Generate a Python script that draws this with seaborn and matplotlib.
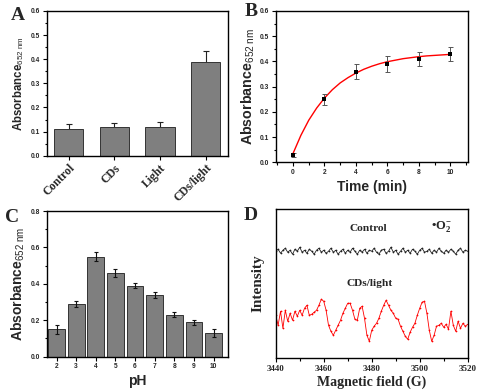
import numpy as np
import pandas as pd
import matplotlib
matplotlib.use('Agg')
import matplotlib.pyplot as plt
from matplotlib.ticker import MultipleLocator, FormatStrFormatter
import seaborn as sns

# panel A
groups_a = ['Control', 'CDs', 'Light', 'CDs/light']
abs_a = [0.11, 0.12, 0.12, 0.39]
err_a = [0.02, 0.015, 0.02, 0.045]

# panel B
time_b = [0, 2, 4, 6, 8, 10]
abs_b = [0.03, 0.25, 0.36, 0.39, 0.41, 0.43]
err_b = [0.008, 0.022, 0.03, 0.032, 0.028, 0.027]
fit_t = [0, 0.5, 1, 1.5, 2, 2.5, 3, 3.5, 4, 4.5, 5, 5.5, 6, 6.5, 7, 7.5, 8, 8.5, 9, 9.5, 10]
fit_y = [0.035, 0.107, 0.167, 0.215, 0.255, 0.288, 0.315, 0.336, 0.354, 0.369, 0.381,
         0.391, 0.399, 0.405, 0.411, 0.415, 0.419, 0.422, 0.424, 0.426, 0.428]

# panel C
ph_c = ['2', '3', '4', '5', '6', '7', '8', '9', '10']
abs_c = [0.15, 0.29, 0.55, 0.46, 0.39, 0.34, 0.23, 0.19, 0.13]
err_c = [0.025, 0.018, 0.025, 0.02, 0.013, 0.015, 0.013, 0.014, 0.022]

# panel D (EPR, arbitrary intensity)
field_d = list(range(3440, 3521))
control_d = [107, 109, 105, 108, 110, 106, 108, 104, 109, 107,
             111, 106, 108, 105, 109, 107, 104, 108, 110, 106,
             108, 105, 107, 110, 106, 108, 104, 107, 109, 105,
             108, 106, 110, 107, 104, 108, 106, 109, 105, 108,
             107, 110, 106, 104, 108, 109, 105, 107, 111, 106,
             108, 104, 107, 110, 106, 108, 105, 109, 107, 104,
             108, 110, 106, 107, 109, 105, 108, 106, 110, 107,
             105, 108, 106, 109, 107, 104, 108, 110, 106, 108, 107]
cds_d = [43, 33, 47, 30, 48, 37, 45, 38, 47, 42,
         48, 43, 50, 53, 43, 44, 46, 48, 53, 59,
         57, 48, 33, 27, 23, 28, 33, 38, 45, 50,
         55, 55, 48, 39, 38, 50, 52, 40, 23, 17,
         28, 32, 35, 40, 47, 53, 58, 53, 48, 45,
         40, 39, 32, 27, 22, 19, 26, 31, 35, 43,
         50, 56, 57, 45, 28, 17, 23, 32, 33, 35,
         31, 34, 29, 47, 33, 27, 37, 30, 35, 32, 34]

sns.set_theme(style='ticks')
plt.rcParams['font.family'] = ['Liberation Sans', 'DejaVu Sans']
plt.rcParams['mathtext.fontset'] = 'custom'
plt.rcParams['mathtext.rm'] = 'Liberation Serif:bold'
plt.rcParams['mathtext.bf'] = 'Liberation Serif:bold'
plt.rcParams['mathtext.it'] = 'Liberation Serif:italic:bold'
plt.rcParams['mathtext.sf'] = 'Liberation Sans'
plt.rcParams['axes.linewidth'] = 1.0
plt.rcParams['axes.edgecolor'] = 'black'

fig = plt.figure(figsize=(4.79, 3.90), dpi=100)
axA = fig.add_axes([0.0975, 0.6008, 0.378, 0.371])
axB = fig.add_axes([0.5756, 0.5838, 0.4008, 0.388])
axC = fig.add_axes([0.0975, 0.0854, 0.378, 0.3735])
axD = fig.add_axes([0.5756, 0.0813, 0.4008, 0.383])

bar_col = '#7f7f7f'
ylab = r'Absorbance$_{\mathsf{652\ nm}}$'


def style_ticks(ax, size=4.8, family='Liberation Sans'):
    ax.tick_params(which='both', direction='out', width=0.8, color='black', pad=1.5)
    ax.tick_params(which='major', length=3)
    ax.tick_params(which='minor', length=1.8)
    for lab in ax.get_xticklabels() + ax.get_yticklabels():
        lab.set_fontsize(size)
        lab.set_fontweight('bold')
        lab.set_family(family)
    for s in ax.spines.values():
        s.set_visible(True)
        s.set_color('black')


# A
dfa = pd.DataFrame({'group': groups_a, 'abs': abs_a})
sns.barplot(data=dfa, x='group', y='abs', color=bar_col, width=0.64,
            edgecolor='#333333', linewidth=0.7, saturation=1, ax=axA, zorder=2)
axA.errorbar(range(4), abs_a, yerr=err_a, fmt='none', ecolor='#222222',
             elinewidth=0.8, capsize=2, capthick=0.8, zorder=1)
axA.set_xlim(-0.48, 3.48)
axA.set_ylim(0, 0.6)
axA.yaxis.set_major_locator(MultipleLocator(0.1))
axA.yaxis.set_minor_locator(MultipleLocator(0.05))
axA.set_xlabel('')
axA.set_ylabel(ylab, fontsize=8.3, fontweight='bold', labelpad=4)
style_ticks(axA)
axA.set_xticks(range(4))
axA.set_xticklabels(groups_a, rotation=45, ha='right', rotation_mode='anchor',
                    fontsize=8.5, fontweight='bold', family='Liberation Serif')
axA.yaxis.set_major_formatter(FormatStrFormatter('%.1f'))

# B
dfb = pd.DataFrame({'t': fit_t, 'y': fit_y})
sns.lineplot(data=dfb, x='t', y='y', color='red', linewidth=1.0, ax=axB)
axB.errorbar(time_b, abs_b, yerr=err_b, fmt='none', ecolor='#555555',
             elinewidth=0.7, capsize=1.8, capthick=0.7, zorder=3)
sns.scatterplot(x=time_b, y=abs_b, marker='s', s=10, color='black',
                edgecolor='black', linewidth=0, ax=axB, zorder=4)
axB.set_xlim(-1.1, 11.1)
axB.set_ylim(0, 0.6)
axB.xaxis.set_major_locator(MultipleLocator(2))
axB.xaxis.set_minor_locator(MultipleLocator(1))
axB.yaxis.set_major_locator(MultipleLocator(0.1))
axB.yaxis.set_minor_locator(MultipleLocator(0.05))
axB.yaxis.set_major_formatter(FormatStrFormatter('%.1f'))
axB.set_xlabel('Time (min)', fontsize=10, fontweight='bold', labelpad=3)
axB.set_ylabel(ylab, fontsize=10.3, fontweight='bold', labelpad=2)
style_ticks(axB)

# C
dfc = pd.DataFrame({'ph': ph_c, 'abs': abs_c})
sns.barplot(data=dfc, x='ph', y='abs', color=bar_col, width=0.85,
            edgecolor='#333333', linewidth=0.7, saturation=1, ax=axC)
axC.errorbar(range(9), abs_c, yerr=err_c, fmt='none', ecolor='#111111',
             elinewidth=0.8, capsize=1.6, capthick=0.8, zorder=3)
axC.set_xlim(-0.5, 8.72)
axC.set_ylim(0, 0.8)
axC.yaxis.set_major_locator(MultipleLocator(0.2))
axC.yaxis.set_minor_locator(MultipleLocator(0.1))
axC.yaxis.set_major_formatter(FormatStrFormatter('%.1f'))
axC.set_xlabel('pH', fontsize=10, fontweight='bold', labelpad=3)
axC.set_ylabel(ylab, fontsize=10, fontweight='bold', labelpad=3)
style_ticks(axC)

# D
dfd = pd.DataFrame({'field': field_d, 'control': control_d, 'cds': cds_d})
sns.lineplot(data=dfd, x='field', y='control', color='#222222', linewidth=0.6,
             marker='.', markersize=2.5, markeredgewidth=0, ax=axD)
sns.lineplot(data=dfd, x='field', y='cds', color='red', linewidth=0.6,
             marker='.', markersize=2.5, markeredgewidth=0, ax=axD)
axD.set_xlim(3440, 3520)
axD.set_ylim(0, 149.3)
axD.xaxis.set_major_locator(MultipleLocator(20))
axD.xaxis.set_minor_locator(MultipleLocator(10))
axD.set_yticks([])
axD.set_xlabel('Magnetic field (G)', fontsize=10, fontweight='bold',
               family='Liberation Serif', labelpad=2)
axD.set_ylabel('Intensity', fontsize=11, fontweight='bold',
               family='Liberation Serif', labelpad=8)
style_ticks(axD, size=6.5, family='Liberation Serif')
axD.text(3478.6, 130, 'Control', ha='center', va='center', fontsize=8.2,
         fontweight='bold', family='Liberation Serif')
axD.text(3479, 75, 'CDs/light', ha='center', va='center', fontsize=8.2,
         fontweight='bold', family='Liberation Serif')
axD.text(3509, 131.5, '•O$_2^{-}$', ha='center', va='center', fontsize=9,
         fontweight='bold', family='Liberation Serif')

# panel letters
for lab, x, y in [('A', 18, 16), ('B', 251, 11), ('C', 12, 217), ('D', 251, 216)]:
    fig.text(x / 479, 1 - y / 390, lab, ha='center', va='center', fontsize=14,
             fontweight='bold', family='Liberation Serif')

fig.savefig('out.png', dpi=100)
